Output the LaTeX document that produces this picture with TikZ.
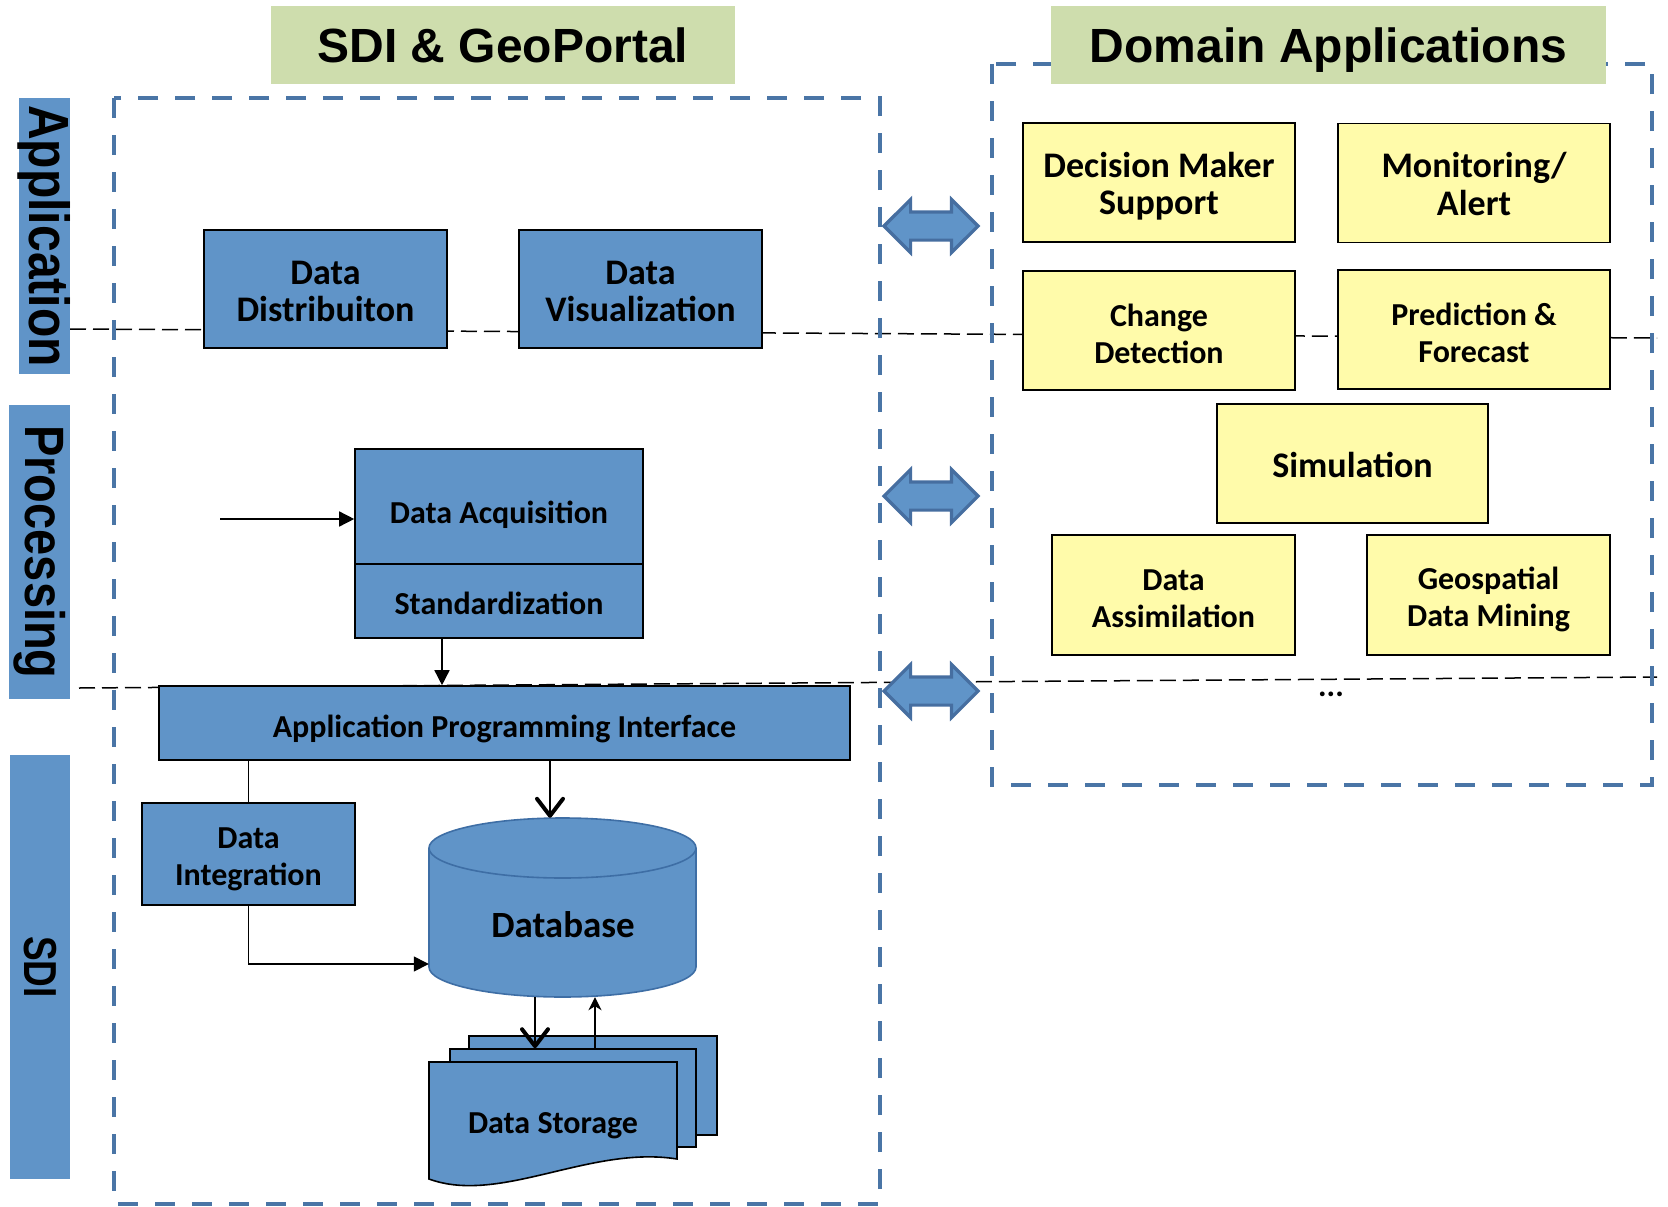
\documentclass[tikz,border=0pt]{standalone}
\usepackage{fontspec}
\usetikzlibrary{shapes.arrows,arrows.meta}
\newfontfamily\carl{Carlito}
\newfontfamily\arl{Liberation Sans}
\definecolor{boxblue}{RGB}{96,148,200}
\definecolor{bandblue}{RGB}{96,148,200}
\definecolor{dashblue}{RGB}{74,117,166}
\definecolor{arrblue}{RGB}{96,148,200}
\definecolor{arrborder}{RGB}{70,110,160}
\definecolor{dbborder}{RGB}{62,110,165}
\definecolor{yel}{RGB}{255,251,170}
\definecolor{ttlgreen}{RGB}{206,221,173}
\begin{document}
\begin{tikzpicture}[x=1pt,y=-1pt,
  bbox/.style={draw=black, line width=1.6pt, fill=boxblue, inner sep=0pt},
  ybox/.style={bbox, fill=yel},
  lbls/.style={inner sep=0pt, align=center, font=\carl\bfseries\fontsize{32}{37}\selectfont},
  lblb/.style={inner sep=0pt, align=center, font=\carl\bfseries\fontsize{36}{37}\selectfont},
  band/.style={fill=bandblue, inner sep=0pt},
  bandtxt/.style={inner sep=0pt, rotate=-90},
  ttl/.style={fill=ttlgreen, inner sep=0pt, text depth=0pt, font=\arl\bfseries\fontsize{48}{55}\selectfont},
  region/.style={draw=dashblue, line width=4.5pt, dash pattern=on 20pt off 17pt},
  sep/.style={draw=black, line width=1.5pt, dash pattern=on 16pt off 7pt},
  conn/.style={draw=black, line width=1.5pt},
  tri/.style={conn, -{Triangle[length=15pt,width=15pt]}},
  barb/.style={conn, -{Straight Barb[length=17pt,width=26pt,line width=4pt,round]}},
  smallarr/.style={conn, -{Stealth[length=13pt,width=13pt,inset=4pt]}},
  darr/.style={double arrow, double arrow head extend=12.5pt, minimum height=94pt,
    inner xsep=0pt, inner ysep=12.5pt, fill=arrblue, draw=arrborder, line width=3.2pt}
]
\useasboundingbox (0,0) rectangle (1668,1207);
\fill[white] (0,0) rectangle (1668,1207);

% layer separators
\coordinate (s1a) at (70,329);
\coordinate (s1b) at (1657,338);
\coordinate (s2a) at (79,688);
\coordinate (s2b) at (1657,677);
\draw[sep] (s1a) -- (s1b);
\draw[sep] (s2a) -- (s2b);

% region boxes
\draw[region] (114,98) rectangle (880,1204);
\draw[region] (992,64) rectangle (1652,785);

% titles
\node[ttl, minimum width=464pt, minimum height=78pt] (t1) at (503,45) {SDI \& GeoPortal};
\node[ttl, minimum width=555pt, minimum height=78pt] (t2) at (1328.5,45) {Domain Applications};

% side bands
\node[band, minimum width=51pt, minimum height=276pt] (b1) at (44.5,236) {};
\node[band, minimum width=61pt, minimum height=294pt] (b2) at (39.5,552) {};
\node[band, minimum width=60pt, minimum height=424pt] (b3) at (40,967) {};
\node[bandtxt, font=\arl\bfseries\fontsize{48}{50}\selectfont] (b1t) at (b1.center) {\scalebox{1}[1.18]{Application}};
\node[bandtxt, font=\arl\bfseries\fontsize{47}{50}\selectfont] (b2t) at (b2.center) {\scalebox{1}[1.18]{Processing}};
\node[bandtxt, font=\arl\bfseries\fontsize{37}{40}\selectfont] (b3t) at (b3.center) {\scalebox{1}[1.25]{SDI}};

% SDI & GeoPortal boxes
\node[bbox, minimum width=243pt, minimum height=118pt,
  label={[lblb, yshift=-2pt]center:Data\\Distribuiton}] (dist) at (325.5,289) {};
\node[bbox, minimum width=243pt, minimum height=118pt,
  label={[lblb, yshift=-2pt]center:Data\\Visualization}] (vis) at (640.5,289) {};
\node[bbox, minimum width=288pt, minimum height=115pt,
  label={[lbls, yshift=-8pt]center:Data Acquisition}] (acq) at (499,506.5) {};
\node[bbox, minimum width=288pt, minimum height=74pt,
  label={[lbls, yshift=-2pt]center:Standardization}] (std) at (499,601) {};
\node[bbox, minimum width=691pt, minimum height=74pt,
  label={[lbls, yshift=-6pt]center:Application Programming Interface}] (api) at (504.5,723) {};
\node[bbox, minimum width=213pt, minimum height=102pt,
  label={[lbls, yshift=-5pt]center:Data\\Integration}] (di) at (248.5,854) {};

% database cylinder
\fill[boxblue, draw=dbborder, line width=1.6pt] (562.5,967) ellipse [x radius=133.5pt, y radius=30pt];
\fill[boxblue] (429,848) rectangle (696,967);
\draw[dbborder, line width=1.6pt] (429,848) -- (429,967) (696,848) -- (696,967);
\fill[boxblue, draw=dbborder, line width=1.6pt] (562.5,848) ellipse [x radius=133.5pt, y radius=30pt];
\node[minimum width=267pt, minimum height=179pt, inner sep=0pt] (db) at (562.5,907.5) {};
\node[lblb, font=\carl\bfseries\fontsize{37}{38}\selectfont] (dbt) at (563,925) {Database};

% data storage (multi-document)
\node[bbox, minimum width=248pt, minimum height=99pt] (ds3) at (593,1085.5) {};
\node[bbox, minimum width=246pt, minimum height=98pt] (ds2) at (573,1098) {};
\draw[fill=boxblue, draw=black, line width=1.6pt]
  (429,1062) -- (677,1062) -- (677,1159) .. controls (590,1145) and (500,1205) .. (429,1179) -- cycle;
\node[lbls] (ds) at (553,1126) {Data Storage};

% Domain application boxes
\node[ybox, minimum width=272pt, minimum height=119pt,
  label={[lblb, yshift=-4pt]center:Decision Maker\\Support}] (dms) at (1159,182.5) {};
\node[ybox, minimum width=272pt, minimum height=119pt,
  label={[lblb, yshift=-1pt]center:Monitoring/\\Alert}] (mon) at (1474,183) {};
\node[ybox, minimum width=272pt, minimum height=119pt,
  label={[lbls, yshift=-3pt]center:Change\\Detection}] (chg) at (1159,330.5) {};
\node[ybox, minimum width=272pt, minimum height=119pt,
  label={[lbls, yshift=-3pt]center:Prediction \&\\Forecast}] (pred) at (1474,329.5) {};
\node[ybox, minimum width=271pt, minimum height=119pt,
  label={[lblb, yshift=-1pt]center:Simulation}] (sim) at (1352.5,463.5) {};
\node[ybox, minimum width=243pt, minimum height=120pt,
  label={[lbls, yshift=-4pt]center:Data\\Assimilation}] (dass) at (1173.5,595) {};
\node[ybox, minimum width=243pt, minimum height=120pt,
  label={[lbls, yshift=-4pt]center:Geospatial\\Data Mining}] (geo) at (1488.5,595) {};
\node[lbls] (dots) at (1331,694) {...};

% connectors
\coordinate (src) at (220,519);
\draw[tri] (src) -- (src -| acq.west);
\draw[tri] ([xshift=-57pt]std.south) -- ([xshift=-57pt]std.south |- api.north);
\draw[conn] (api.south -| di.north) -- (di.north);
\draw[tri] (di.south) |- ([yshift=-56.5pt]db.west);
\draw[barb] ([xshift=45.5pt]api.south) -- ([xshift=-12.5pt]db.north);
\draw[barb] ([xshift=-27.5pt]db.south) -- ([xshift=-27.5pt]db.south |- ds2.north);
\draw[smallarr] ([xshift=22pt]ds2.north) -- ([xshift=22pt]ds2.north |- db.south);

% double arrows between the two parts
\node[darr] (da1) at (931,226) {};
\node[darr] (da2) at (931,496) {};
\node[darr] (da3) at (931,691) {};
\end{tikzpicture}
\end{document}
